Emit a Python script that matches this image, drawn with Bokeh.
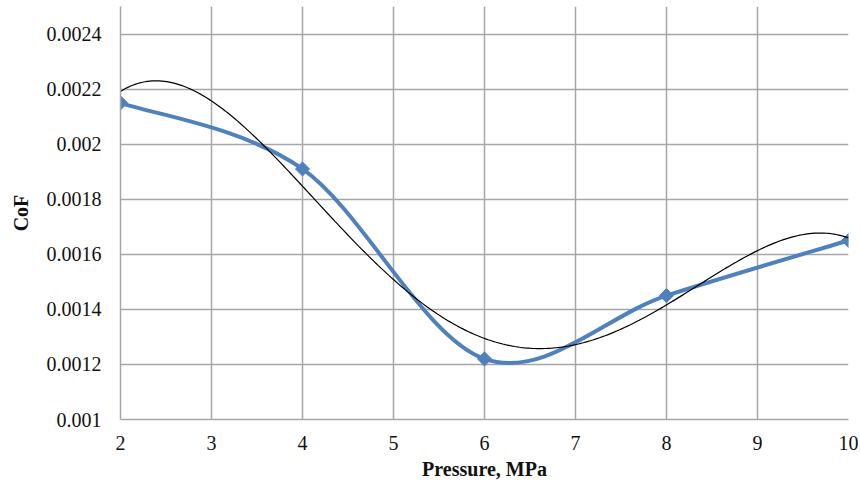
import numpy as np
from bokeh.plotting import figure
from bokeh.models import Range1d, FixedTicker
from bokeh.embed import file_html
from bokeh.resources import INLINE

# Measured series (Pressure, MPa vs CoF)
pressure = [2, 4, 6, 8, 10]
cof = [0.00215, 0.00191, 0.00122, 0.00145, 0.00165]

# Values
trend_x = [2, 2.36, 3, 3.56, 4, 5, 6, 6.58, 7, 8, 9, 9.66, 10]
trend_y = [0.002193, 0.002229, 0.002153, 0.002004, 0.001847, 0.001509, 0.001292,
           0.001255, 0.001277, 0.001415, 0.001612, 0.00168, 0.001658]

x_ticks = [2, 3, 4, 5, 6, 7, 8, 9, 10]
y_ticks = [0.001, 0.0012, 0.0014, 0.0016, 0.0018, 0.002, 0.0022, 0.0024]
y_tick_labels = ["0.001", "0.0012", "0.0014", "0.0016", "0.0018", "0.002", "0.0022", "0.0024"]

BLUE = "#4F81BD"
GRID = "#A6A6A6"
FONT = "Liberation Serif"

p = figure(width=858, height=482, x_range=Range1d(2, 10), y_range=Range1d(0.001, 0.0025),
           output_backend="svg", toolbar_location=None,
           min_border_left=120, min_border_right=10, min_border_top=6, min_border_bottom=62)
p.outline_line_color = None
p.background_fill_color = "white"
p.border_fill_color = "white"

p.xaxis.ticker = FixedTicker(ticks=x_ticks)
p.yaxis.ticker = FixedTicker(ticks=y_ticks)
p.yaxis.major_label_overrides = {t: l for t, l in zip(y_ticks, y_tick_labels)}

for ax in (p.xaxis[0], p.yaxis[0]):
    ax.major_label_text_font = FONT
    ax.major_label_text_font_size = "20px"
    ax.major_label_text_color = "#111111"
    ax.axis_label_text_font = FONT
    ax.axis_label_text_font_size = "20px"
    ax.axis_label_text_font_style = "bold"
    ax.axis_label_text_color = "#111111"
    ax.major_tick_in = 0
    ax.major_tick_out = 0
    ax.minor_tick_in = 0
    ax.minor_tick_out = 0
    ax.axis_line_color = GRID
    ax.axis_line_width = 1.5

p.xaxis.axis_label = "Pressure, MPa"
p.yaxis.axis_label = "CoF"
p.xaxis.major_label_standoff = 16
p.yaxis.major_label_standoff = 19
p.xaxis.axis_label_standoff = 5
p.yaxis.axis_label_standoff = 12

p.xgrid.grid_line_color = GRID
p.ygrid.grid_line_color = GRID
p.xgrid.grid_line_width = 1.5
p.ygrid.grid_line_width = 1.5

# Excel-style smoothed line: cubic Bezier segments (Catmull-Rom control points)
xs = np.array(pressure, dtype=float)
ys = np.array(cof, dtype=float)
n = len(xs)
x0, y0, x1, y1, cx0, cy0, cx1, cy1 = [], [], [], [], [], [], [], []
for i in range(n - 1):
    ip = max(i - 1, 0)
    inn = min(i + 2, n - 1)
    x0.append(xs[i]); y0.append(ys[i])
    x1.append(xs[i + 1]); y1.append(ys[i + 1])
    cx0.append(xs[i] + (xs[i + 1] - xs[ip]) / 6)
    cy0.append(ys[i] + (ys[i + 1] - ys[ip]) / 6)
    cx1.append(xs[i + 1] - (xs[inn] - xs[i]) / 6)
    cy1.append(ys[i + 1] - (ys[inn] - ys[i]) / 6)

p.bezier(x0=x0, y0=y0, x1=x1, y1=y1, cx0=cx0, cy0=cy0, cx1=cx1, cy1=cy1,
         line_color=BLUE, line_width=4)
p.scatter(pressure, cof, marker="square", angle=np.pi / 4, size=10,
          fill_color=BLUE, line_color=BLUE)

# Polynomial trend curve fitted to the read trend values
coef = np.polyfit(trend_x, trend_y, 4)
tx = np.linspace(2, 10, 300)
p.line(tx, np.polyval(coef, tx), line_color="black", line_width=1.2)

open("out.html", "w").write(file_html(p, INLINE))
